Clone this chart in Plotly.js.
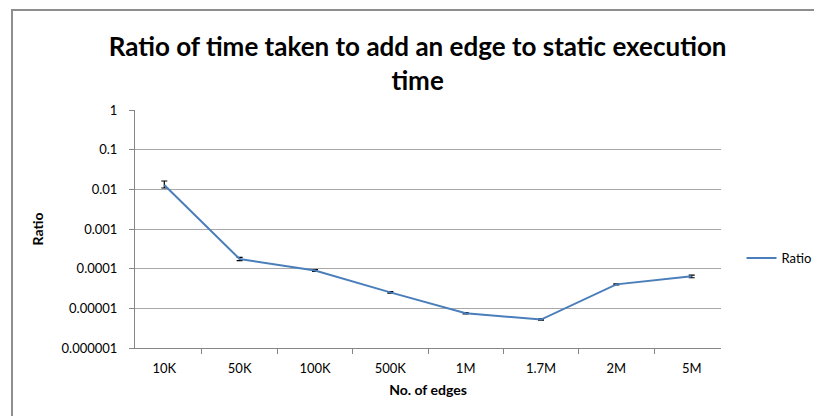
<!DOCTYPE html>
<html>
<head>
<meta charset="utf-8">
<script src="https://cdn.plot.ly/plotly-3.0.1.min.js"></script>
<style>
  html, body { margin: 0; padding: 0; background: #fff; }
  #wrap { position: relative; width: 814px; height: 416px; }
  #chart { width: 814px; height: 416px; }
  #frame { position: absolute; left: 11px; top: 9px; right: -2px; bottom: -2px;
           border-top: 2px solid #8e8e8e; border-left: 2px solid #8e8e8e; pointer-events: none; }
</style>
</head>
<body>
<div id="wrap">
  <div id="chart"></div>
  <div id="frame"></div>
</div>
<script>
const categories = ["10K", "50K", "100K", "500K", "1M", "1.7M", "2M", "5M"];
const ratio      = [0.0128, 0.000175, 0.00009, 0.0000253, 0.0000075, 0.0000052, 0.0000402, 0.000064];
const errPlus    = [0.0034, 0.000017, 0.000005, 0.0000012, 0.0000003, 0.0000002, 0.000001, 0.000005];
const errMinus   = [0.0020, 0.000015, 0.000005, 0.0000012, 0.0000003, 0.0000002, 0.000001, 0.000005];
const yTickVals  = [1e-6, 1e-5, 1e-4, 1e-3, 1e-2, 1e-1, 1];
const yTickText  = ["0.000001", "0.00001", "0.0001", "0.001", "0.01", "0.1", "1"];

const FONT = "Lato, 'Open Sans', sans-serif";

const trace = {
  type: "scatter",
  mode: "lines",
  name: "Ratio",
  x: categories,
  y: ratio,
  line: { color: "#4a7ebb", width: 2 },
  error_y: {
    type: "data", symmetric: false,
    array: errPlus, arrayminus: errMinus,
    color: "#000000", thickness: 1.2, width: 3
  }
};

const layout = {
  width: 814, height: 416,
  paper_bgcolor: "#ffffff", plot_bgcolor: "#ffffff",
  margin: { l: 135, r: 93, t: 110, b: 68, autoexpand: false },
  font: { family: FONT, color: "#000000", size: 13 },
  title: {
    text: "<b>Ratio of time taken to add an edge to static execution<br>time</b>",
    font: { family: FONT, size: 26, color: "#000000" },
    x: 0.513, xref: "container", xanchor: "center",
    y: 1 - 56 / 416, yref: "container", yanchor: "middle"
  },
  xaxis: {
    type: "category",
    tickson: "boundaries",
    ticks: "outside", ticklen: 5, tickcolor: "#868686", tickwidth: 1,
    showline: true, linecolor: "#868686", linewidth: 1,
    showgrid: false, zeroline: false,
    tickfont: { family: FONT, size: 13 },
    ticklabelstandoff: 8,
    title: { text: "<b>No. of edges</b>", font: { family: FONT, size: 14 }, standoff: 10 }
  },
  yaxis: {
    type: "log",
    range: [-6, 0],
    tickvals: yTickVals, ticktext: yTickText,
    ticks: "outside", ticklen: 5, tickcolor: "#868686", tickwidth: 1,
    showline: true, linecolor: "#868686", linewidth: 1,
    showgrid: true, gridcolor: "#a8a8a8", gridwidth: 1,
    zeroline: false,
    tickfont: { family: FONT, size: 13 },
    ticklabelstandoff: 9,
    title: { text: "<b>Ratio</b>", font: { family: FONT, size: 14 }, standoff: 14 }
  },
  showlegend: true,
  legend: {
    x: 1.035, xanchor: "left", y: 0.378, yanchor: "middle",
    font: { family: FONT, size: 13 },
    bgcolor: "rgba(0,0,0,0)"
  }
};

Plotly.newPlot("chart", [trace], layout, { staticPlot: true, displayModeBar: false });
</script>
</body>
</html>
